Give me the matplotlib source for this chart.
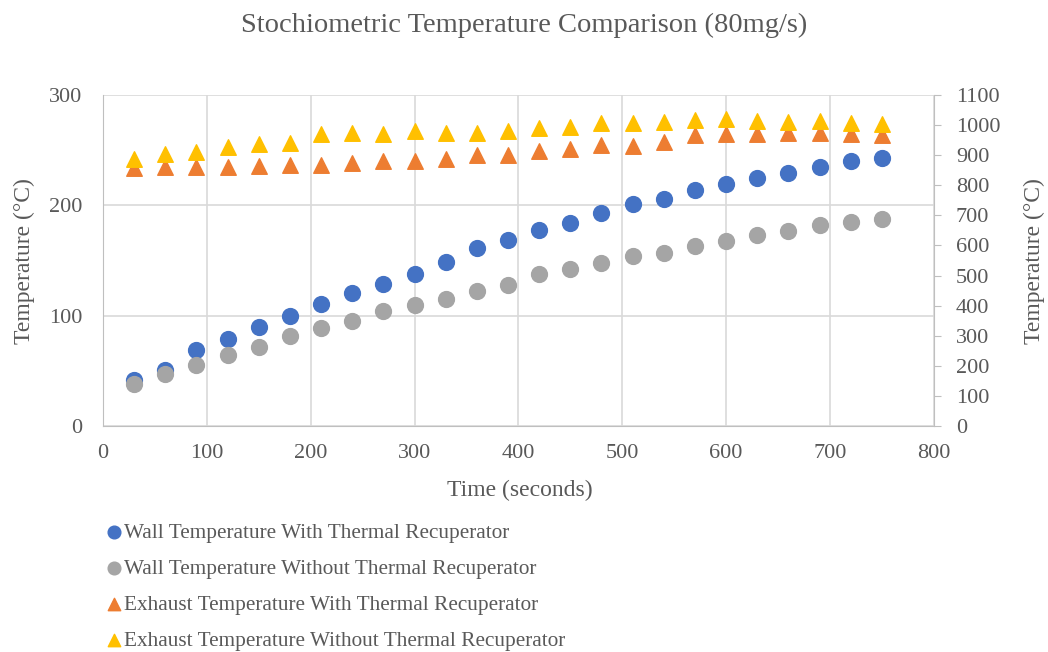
import matplotlib
matplotlib.use("Agg")
import matplotlib.pyplot as plt

plt.rcParams['font.family'] = ['Liberation Serif', 'DejaVu Serif']

# data
time_s = [30, 60, 90, 120, 150, 180, 210, 240, 270, 300, 330, 360, 390,
          420, 450, 480, 510, 540, 570, 600, 630, 660, 690, 720, 750]
wall_with = [42, 51, 69, 79, 90, 100, 111, 121, 129, 138, 149, 161, 169,
             178, 184, 193, 201, 206, 214, 219, 225, 229, 235, 240, 243]
wall_without = [38, 47, 55, 64, 72, 82, 89, 95, 104, 110, 115, 122, 128,
                138, 142, 148, 154, 157, 163, 168, 173, 177, 182, 185, 188]
exhaust_with = [859, 860, 861, 861, 865, 866, 868, 874, 881, 882, 887, 900, 900,
                913, 922, 933, 930, 944, 966, 970, 972, 973, 975, 972, 968]
exhaust_without = [887, 905, 910, 927, 937, 939, 970, 974, 970, 981, 975, 975, 979,
                   990, 995, 1007, 1007, 1010, 1016, 1019, 1012, 1011, 1013, 1008, 1004]

txt = '#595959'
grid = '#d9d9d9'

fig = plt.figure(figsize=(10.48, 6.52), dpi=100)
ax = fig.add_axes([0.0983, 0.3466, 0.7927, 0.5077])
ax2 = ax.twinx()

ax.scatter(time_s, wall_with, s=130, color='#4472C4', marker='o', zorder=3,
           label='Wall Temperature With Thermal Recuperator')
ax.scatter(time_s, wall_without, s=130, color='#A5A5A5', marker='o', zorder=3,
           label='Wall Temperature Without Thermal Recuperator')
ax2.scatter(time_s, exhaust_with, s=125, color='#ED7D31', marker='^', zorder=3,
            label='Exhaust Temperature With Thermal Recuperator')
ax2.scatter(time_s, exhaust_without, s=125, color='#FFC000', marker='^', zorder=3,
            label='Exhaust Temperature Without Thermal Recuperator')

ax.set_xlim(0, 800)
ax.set_ylim(0, 300)
ax2.set_ylim(0, 1100)
ax.set_xticks(range(0, 801, 100))
ax.set_yticks(range(0, 301, 100))
ax2.set_yticks(range(0, 1101, 100))

ax.grid(True, color=grid, linewidth=1.2)
ax.set_axisbelow(True)

for a in (ax, ax2):
    for s in a.spines.values():
        s.set_visible(False)
ax.spines['left'].set_visible(True)
ax.spines['left'].set_color('#bfbfbf')
ax.spines['bottom'].set_visible(True)
ax.spines['bottom'].set_color('#bfbfbf')
ax2.spines['right'].set_visible(True)
ax2.spines['right'].set_color('#bfbfbf')

ax.tick_params(axis='x', length=0, labelsize=16, labelcolor=txt, pad=13)
ax.tick_params(axis='y', length=0, labelsize=16, labelcolor=txt, pad=15)
ax2.tick_params(axis='y', length=5, color='#bfbfbf', labelsize=16, labelcolor=txt, pad=11)

fig.text(0.4957, 0.2485, 'Time (seconds)', fontsize=17, color=txt,
         ha='center', va='center')
fig.text(0.023, 0.60, 'Temperature (°C)', fontsize=17, color=txt,
         ha='center', va='center', rotation=90)
fig.text(0.9875, 0.60, 'Temperature (°C)', fontsize=17, color=txt,
         ha='center', va='center', rotation=90)

fig.text(0.5, 0.9617, 'Stochiometric Temperature Comparison (80mg/s)', fontsize=20.5,
         color=txt, ha='center', va='center')

h1, l1 = ax.get_legend_handles_labels()
h2, l2 = ax2.get_legend_handles_labels()
leg = fig.legend(h1 + h2, l1 + l2, loc='upper left', bbox_to_anchor=(0.103, 0.198),
                 frameon=False, fontsize=15.3, labelcolor=txt, handlelength=0.6,
                 handletextpad=0.15, labelspacing=0.76, markerscale=0.8,
                 borderpad=0, borderaxespad=0)

fig.savefig('out.png', dpi=100)
